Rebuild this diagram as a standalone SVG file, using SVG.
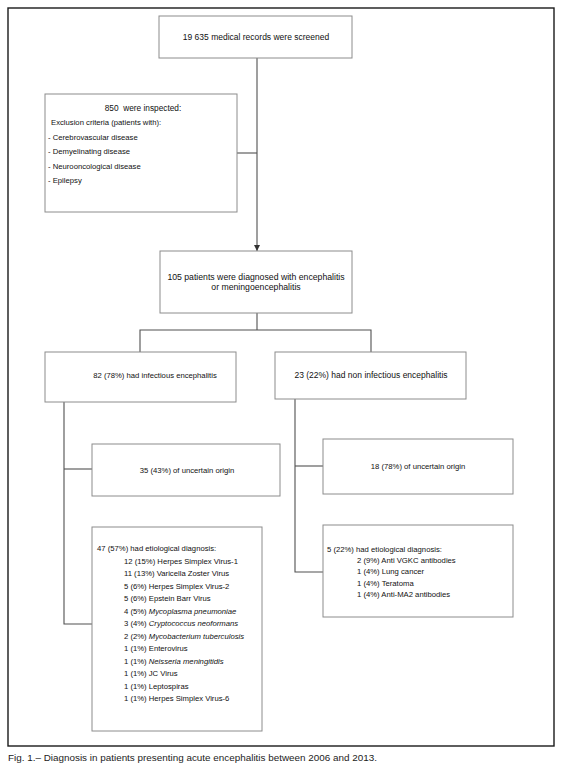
<svg xmlns="http://www.w3.org/2000/svg" width="568" height="781" viewBox="0 0 568 781">
<style>
.bg{fill:#ffffff}
.frame{fill:none;stroke:#1a1a1a;stroke-width:1.4}
.box{fill:#ffffff;stroke:#8c8c8c;stroke-width:1}
.conn{fill:none;stroke:#505050;stroke-width:1.1}
text{font-family:"Liberation Sans",Arial,sans-serif;fill:#111111;font-size:7.7px}
.c{text-anchor:middle}
.big{font-size:8.5px}
.i{font-style:italic}
.cap{font-size:9.9px;fill:#222}
</style>
<defs>
<marker id="arr" viewBox="0 0 6 6" refX="6" refY="3" markerWidth="6" markerHeight="6" orient="auto" markerUnits="userSpaceOnUse">
<path d="M0,0 L6,3 L0,6 z" fill="#333"/>
</marker>
</defs>
<rect class="bg" x="0" y="0" width="568" height="781"/>
<rect class="frame" x="8" y="8" width="546" height="738"/>

<g id="connectors">
<line class="conn" x1="257" y1="58" x2="257" y2="251" marker-end="url(#arr)"/>
<line class="conn" x1="237" y1="153" x2="257" y2="153"/>
<polyline class="conn" points="257,313 257,330"/>
<polyline class="conn" points="140,352 140,330 371,330 371,352"/>
<polyline class="conn" points="64,402 64,624 92,624"/>
<line class="conn" x1="64" y1="469" x2="92" y2="469"/>
<polyline class="conn" points="295,399 295,572 323,572"/>
<line class="conn" x1="295" y1="466" x2="323" y2="466"/>
</g>

<g id="node-screened">
<rect class="box" x="159" y="16" width="193" height="42"/>
<text class="c big" x="256" y="40">19 635 medical records were screened</text>
</g>

<g id="node-inspected">
<rect class="box" x="45" y="94" width="192" height="118"/>
<text class="c" x="143" y="111" style="font-size:8.3px" xml:space="preserve">850  were inspected:</text>
<text x="51" y="125">Exclusion criteria (patients with):</text>
<text x="48" y="140">- Cerebrovascular disease</text>
<text x="48" y="154">- Demyelinating disease</text>
<text x="48" y="169">- Neurooncological disease</text>
<text x="48" y="183">- Epilepsy</text>
</g>

<g id="node-diagnosed">
<rect class="box" x="160" y="251" width="192" height="62"/>
<text class="c big" x="256" y="280" style="font-size:8.7px">105 patients were diagnosed with encephalitis</text>
<text class="c big" x="256" y="290" style="font-size:8.7px">or meningoencephalitis</text>
</g>

<g id="node-infectious">
<rect class="box" x="45" y="352" width="191" height="50"/>
<text class="c" x="155" y="378">82 (78%) had infectious encephalitis</text>
</g>

<g id="node-noninfectious">
<rect class="box" x="275" y="352" width="191" height="47"/>
<text class="c big" x="371" y="378">23 (22%) had non infectious encephalitis</text>
</g>

<g id="node-inf-uncertain">
<rect class="box" x="92" y="444" width="188" height="52"/>
<text class="c" x="187" y="473">35 (43%) of uncertain origin</text>
</g>

<g id="node-noninf-uncertain">
<rect class="box" x="323" y="439" width="190" height="55"/>
<text class="c" x="418" y="469">18 (78%) of uncertain origin</text>
</g>

<g id="node-inf-etiological">
<rect class="box" x="92" y="527" width="170" height="204"/>
<text x="97" y="551">47 (57%) had etiological diagnosis:</text>
<text x="124" y="563.5">12 (15%) Herpes Simplex Virus-1</text>
<text x="124" y="576">11 (13%) Varicella Zoster Virus</text>
<text x="124" y="588.5">5 (6%) Herpes Simplex Virus-2</text>
<text x="124" y="601">5 (6%) Epstein Barr Virus</text>
<text x="124" y="613.5">4 (5%) <tspan class="i">Mycoplasma pneumoniae</tspan></text>
<text x="124" y="626">3 (4%)  <tspan class="i">Cryptococcus neoformans</tspan></text>
<text x="124" y="638.5">2 (2%) <tspan class="i">Mycobacterium tuberculosis</tspan></text>
<text x="124" y="651">1 (1%) Enterovirus</text>
<text x="124" y="663.5">1 (1%)  <tspan class="i">Neisseria meningitidis</tspan></text>
<text x="124" y="676">1 (1%)  JC Virus</text>
<text x="124" y="688.5">1 (1%)  Leptospiras</text>
<text x="124" y="701">1 (1%) Herpes Simplex Virus-6</text>
</g>

<g id="node-noninf-etiological">
<rect class="box" x="323" y="525" width="190" height="92"/>
<text x="327" y="552">5 (22%) had etiological diagnosis:</text>
<text x="357" y="563">2 (9%) Anti VGKC antibodies</text>
<text x="357" y="574">1 (4%) Lung cancer</text>
<text x="357" y="586">1 (4%) Teratoma</text>
<text x="357" y="597">1 (4%) Anti-MA2 antibodies</text>
</g>

<text class="cap" x="8" y="761">Fig. 1.– Diagnosis in patients presenting acute encephalitis between 2006 and 2013.</text>
</svg>
